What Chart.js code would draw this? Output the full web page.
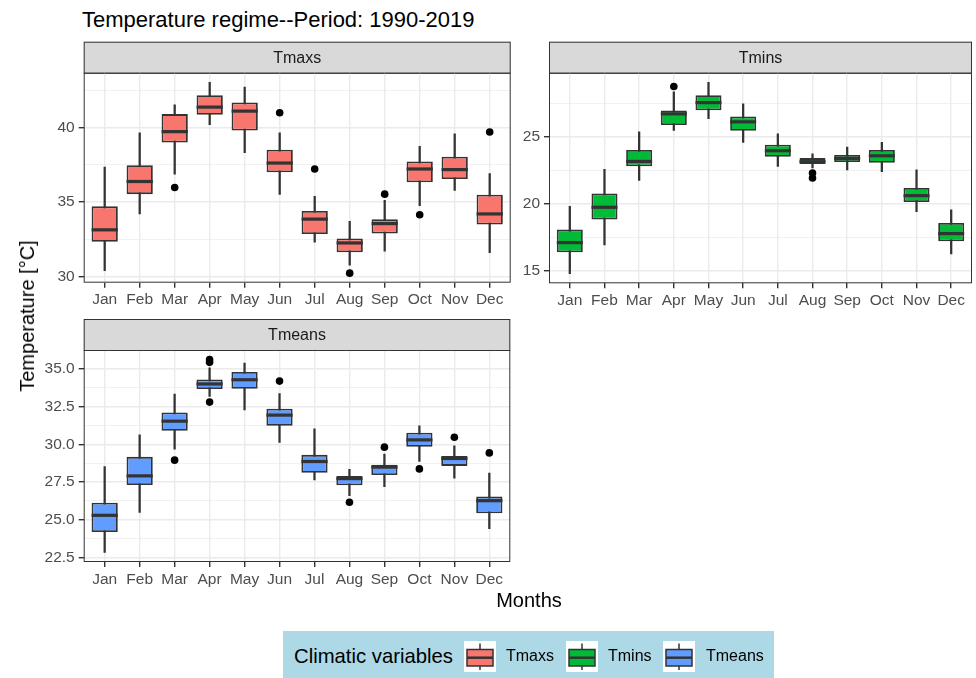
<!DOCTYPE html>
<html>
<head>
<meta charset="utf-8">
<script src="https://cdn.jsdelivr.net/npm/chart.js@4.4.1/dist/chart.umd.min.js"></script>
<style>
body { margin: 0; background: #fff; font-family: "Liberation Sans", Arial, sans-serif; }
#wrap { position: relative; width: 976px; height: 678px; overflow: hidden; background: #fff; }
#wrap canvas { position: absolute; }
.txt { position: absolute; white-space: nowrap; line-height: 1; color: #000; }
#legend { position: absolute; left: 283px; top: 631px; width: 491px; height: 47px; background: #ADD8E6; }
#legend .txt { top: 25px; transform: translateY(-50%); }
#legend svg { position: absolute; top: 10px; }
</style>
</head>
<body>
<div id="wrap">
  <div class="txt" style="left:82px; top:9px; font-size:22px;">Temperature regime--Period: 1990-2019</div>
  <canvas id="chartMax" width="520" height="320" style="left:0; top:0;"></canvas>
  <canvas id="chartMin" width="516" height="320" style="left:460px; top:0;"></canvas>
  <canvas id="chartMean" width="520" height="300" style="left:0; top:300px;"></canvas>
  <div class="txt" style="left:27px; top:316px; font-size:20px; transform: translate(-50%, -50%) rotate(-90deg);">Temperature [°C]</div>
  <div class="txt" style="left:529px; top:600px; font-size:20px; transform: translate(-50%, -50%);">Months</div>
  <div id="legend">
    <div class="txt" style="left:11px; font-size:20.3px;">Climatic variables</div>
  </div>
</div>

<script>
Chart.defaults.font.family = '"Liberation Sans", Arial, sans-serif';

const months = ['Jan', 'Feb', 'Mar', 'Apr', 'May', 'Jun', 'Jul', 'Aug', 'Sep', 'Oct', 'Nov', 'Dec'];

// Tmaxs: whisker ends, quartiles, median
const tmaxLow  = [30.38, 34.20, 36.87, 40.20, 38.31, 35.51, 32.31, 30.75, 31.69, 34.75, 35.78, 31.60];
const tmaxQ1   = [32.33, 35.53, 39.00, 40.87, 39.80, 37.00, 32.85, 31.62, 32.89, 36.33, 36.55, 33.49];
const tmaxMed  = [33.13, 36.38, 39.73, 41.38, 41.11, 37.62, 33.85, 32.25, 33.55, 37.22, 37.18, 34.20];
const tmaxQ3   = [34.71, 37.47, 40.91, 42.18, 41.69, 38.51, 34.40, 32.55, 33.85, 37.73, 38.05, 35.49];
const tmaxHigh = [37.35, 39.65, 41.53, 43.05, 42.73, 39.65, 35.38, 33.71, 35.11, 38.75, 39.58, 36.91];
const tmaxOutMonth = [2, 5, 6, 7, 8, 9, 11];
const tmaxOutValue = [35.98, 41.00, 37.22, 30.22, 35.53, 34.15, 39.71];

// Tmins
const tminLow  = [14.78, 16.94, 21.76, 25.49, 26.37, 24.60, 22.81, 22.69, 22.54, 22.41, 19.43, 16.27];
const tminQ1   = [16.39, 18.83, 22.81, 25.90, 27.01, 25.47, 23.53, 22.99, 23.13, 23.08, 20.15, 17.21];
const tminMed  = [17.11, 19.75, 23.18, 26.74, 27.58, 26.14, 23.98, 23.16, 23.40, 23.60, 20.62, 17.78];
const tminQ3   = [18.08, 20.79, 24.03, 26.99, 28.13, 26.54, 24.43, 23.43, 23.66, 24.03, 21.19, 18.58];
const tminHigh = [19.82, 22.58, 25.40, 28.38, 29.10, 27.49, 25.25, 23.75, 24.25, 24.60, 22.56, 19.55];
const tminOutMonth = [3, 7, 7];
const tminOutValue = [28.78, 22.31, 21.94];

// Tmeans
const tmeanLow  = [22.85, 25.50, 29.68, 33.16, 32.28, 30.12, 27.64, 26.60, 27.20, 28.86, 27.76, 24.42];
const tmeanQ1   = [24.20, 27.31, 30.89, 33.65, 33.67, 31.22, 28.11, 27.29, 27.96, 29.83, 28.57, 25.44];
const tmeanMed  = [25.30, 27.91, 31.53, 33.99, 34.27, 31.93, 28.86, 27.73, 28.49, 30.29, 29.06, 26.27];
const tmeanQ3   = [26.14, 29.17, 32.10, 34.29, 34.78, 32.35, 29.30, 27.91, 28.64, 30.76, 29.23, 26.54];
const tmeanHigh = [28.53, 30.63, 33.32, 35.05, 35.38, 33.36, 31.02, 28.35, 29.35, 31.22, 29.90, 28.09];
const tmeanOutMonth = [2, 3, 3, 3, 5, 7, 8, 9, 10, 11];
const tmeanOutValue = [28.95, 35.60, 35.42, 32.79, 34.18, 26.17, 29.81, 28.37, 30.47, 29.43];

const seriesNames = ['Tmaxs', 'Tmins', 'Tmeans'];
const seriesColors = ['#F8766D', '#00BA38', '#619CFF'];

// strip on top, median lines and the panel border
const panelDeco = {
    id: 'panelDeco',
    beforeDraw(chart, args, opts) {
        const a = chart.chartArea;
        const ctx = chart.ctx;
        const h = opts.stripHeight;
        ctx.save();
        ctx.fillStyle = '#D9D9D9';
        ctx.fillRect(a.left, a.top - h, a.right - a.left, h);
        ctx.strokeStyle = '#333333';
        ctx.lineWidth = 1;
        ctx.strokeRect(a.left + 0.5, a.top - h + 0.5, a.right - a.left - 1, h);
        ctx.fillStyle = '#1A1A1A';
        ctx.font = '16px "Liberation Sans", Arial, sans-serif';
        ctx.textAlign = 'center';
        ctx.textBaseline = 'middle';
        ctx.fillText(opts.text, (a.left + a.right) / 2, a.top - h / 2 + 1);
        ctx.restore();
    },
    afterDatasetsDraw(chart) {
        const ctx = chart.ctx;
        const yScale = chart.scales.y;
        const boxes = chart.data.datasets[1];
        const meta = chart.getDatasetMeta(1);
        ctx.save();
        ctx.strokeStyle = '#333333';
        ctx.lineWidth = 3.2;
        meta.data.forEach((bar, i) => {
            const py = yScale.getPixelForValue(boxes.median[i]);
            ctx.beginPath();
            ctx.moveTo(bar.x - bar.width / 2, py);
            ctx.lineTo(bar.x + bar.width / 2, py);
            ctx.stroke();
        });
        ctx.restore();
    },
    afterDraw(chart) {
        const a = chart.chartArea;
        const ctx = chart.ctx;
        ctx.save();
        ctx.strokeStyle = '#333333';
        ctx.lineWidth = 1;
        ctx.strokeRect(a.left + 0.5, a.top + 0.5, a.right - a.left - 1, a.bottom - a.top - 1);
        ctx.restore();
    }
};

function makePanel(canvasId, p) {
    const all = p.low.concat(p.high, p.outValue);
    const dataMin = Math.min(...all);
    const dataMax = Math.max(...all);
    const pad = (dataMax - dataMin) * 0.05;
    const yMin = dataMin - pad;
    const yMax = dataMax + pad;

    // major ticks every step, minor halfway between
    const half = p.step / 2;
    const yTicks = [];
    for (let k = Math.ceil(yMin / half); k * half <= yMax; k++) {
        yTicks.push(k * half);
    }
    const isMajor = v => Math.abs(v / p.step - Math.round(v / p.step)) < 1e-6;

    const outliers = p.outMonth.map((m, i) => ({ x: m, y: p.outValue[i] }));
    const boxData = months.map((m, i) => ({ x: i, y: [p.q1[i], p.q3[i]] }));
    const whiskerData = months.map((m, i) => ({ x: i, y: [p.low[i], p.high[i]] }));

    return new Chart(document.getElementById(canvasId), {
        type: 'bar',
        data: {
            datasets: [
                {
                    type: 'scatter',
                    data: outliers,
                    pointRadius: 3.8,
                    pointBackgroundColor: '#000000',
                    pointBorderWidth: 0
                },
                {
                    data: boxData,
                    median: p.med,
                    backgroundColor: p.color,
                    borderColor: '#333333',
                    borderWidth: 1.8,
                    borderSkipped: false,
                    grouped: false,
                    barPercentage: 0.75,
                    categoryPercentage: 1
                },
                {
                    data: whiskerData,
                    backgroundColor: '#333333',
                    borderWidth: 0,
                    grouped: false,
                    barThickness: 1.6
                }
            ]
        },
        options: {
            responsive: false,
            animation: false,
            devicePixelRatio: 1,
            layout: { padding: { top: p.padTop, right: p.padRight, left: 0, bottom: 0 } },
            plugins: {
                legend: { display: false },
                tooltip: { enabled: false },
                panelDeco: { text: p.title, stripHeight: 31 }
            },
            scales: {
                x: {
                    type: 'linear',
                    offset: false,
                    min: -0.6,
                    max: months.length - 0.4,
                    afterBuildTicks: s => { s.ticks = months.map((m, i) => ({ value: i })); },
                    afterFit: s => { s.height = p.xHeight; },
                    border: { display: false },
                    grid: { offset: false, color: '#EBEBEB', lineWidth: 1.4, tickColor: '#333333', tickLength: 5 },
                    ticks: {
                        autoSkip: false,
                        maxRotation: 0,
                        padding: 3,
                        color: '#4D4D4D',
                        font: { size: 15.5 },
                        callback: v => months[v]
                    }
                },
                y: {
                    min: yMin,
                    max: yMax,
                    afterBuildTicks: s => { s.ticks = yTicks.map(v => ({ value: v })); },
                    afterFit: s => { s.width = p.yWidth; },
                    border: { display: false },
                    grid: {
                        color: '#EBEBEB',
                        lineWidth: c => (c.tick && isMajor(c.tick.value)) ? 1.4 : 0.7,
                        tickColor: c => (c.tick && isMajor(c.tick.value)) ? '#333333' : 'rgba(0,0,0,0)',
                        tickLength: 5
                    },
                    ticks: {
                        autoSkip: false,
                        padding: 4,
                        color: '#4D4D4D',
                        font: { size: 15.5 },
                        callback: v => isMajor(v) ? v.toFixed(p.decimals) : ''
                    }
                }
            }
        },
        plugins: [panelDeco]
    });
}

makePanel('chartMax', {
    title: 'Tmaxs', color: seriesColors[0],
    low: tmaxLow, q1: tmaxQ1, med: tmaxMed, q3: tmaxQ3, high: tmaxHigh,
    outMonth: tmaxOutMonth, outValue: tmaxOutValue,
    step: 5, decimals: 0,
    yWidth: 83.7, xHeight: 37.3, padTop: 72.7, padRight: 9.3
});

makePanel('chartMin', {
    title: 'Tmins', color: seriesColors[1],
    low: tminLow, q1: tminQ1, med: tminMed, q3: tminQ3, high: tminHigh,
    outMonth: tminOutMonth, outValue: tminOutValue,
    step: 5, decimals: 0,
    yWidth: 89, xHeight: 36.7, padTop: 72.7, padRight: 0.5
});

makePanel('chartMean', {
    title: 'Tmeans', color: seriesColors[2],
    low: tmeanLow, q1: tmeanQ1, med: tmeanMed, q3: tmeanQ3, high: tmeanHigh,
    outMonth: tmeanOutMonth, outValue: tmeanOutValue,
    step: 2.5, decimals: 1,
    yWidth: 83.7, xHeight: 38, padTop: 50, padRight: 9.7
});

// legend keys
const legend = document.getElementById('legend');
const keyLeft = [181, 283, 380];
const labelLeft = [223, 325, 423];
seriesNames.forEach((name, i) => {
    const svg = document.createElementNS('http://www.w3.org/2000/svg', 'svg');
    svg.setAttribute('width', 32);
    svg.setAttribute('height', 31);
    svg.style.left = keyLeft[i] + 'px';
    svg.innerHTML =
        '<rect width="32" height="31" fill="#ffffff"/>' +
        '<line x1="16" y1="2.5" x2="16" y2="29" stroke="#333333" stroke-width="1.5"/>' +
        '<rect x="3" y="8.5" width="26" height="16.5" fill="' + seriesColors[i] + '" stroke="#333333" stroke-width="1.5"/>' +
        '<line x1="3" y1="16.7" x2="29" y2="16.7" stroke="#333333" stroke-width="2.5"/>';
    legend.appendChild(svg);
    const label = document.createElement('div');
    label.className = 'txt';
    label.style.left = labelLeft[i] + 'px';
    label.style.fontSize = '16px';
    label.textContent = name;
    legend.appendChild(label);
});
</script>
</body>
</html>
